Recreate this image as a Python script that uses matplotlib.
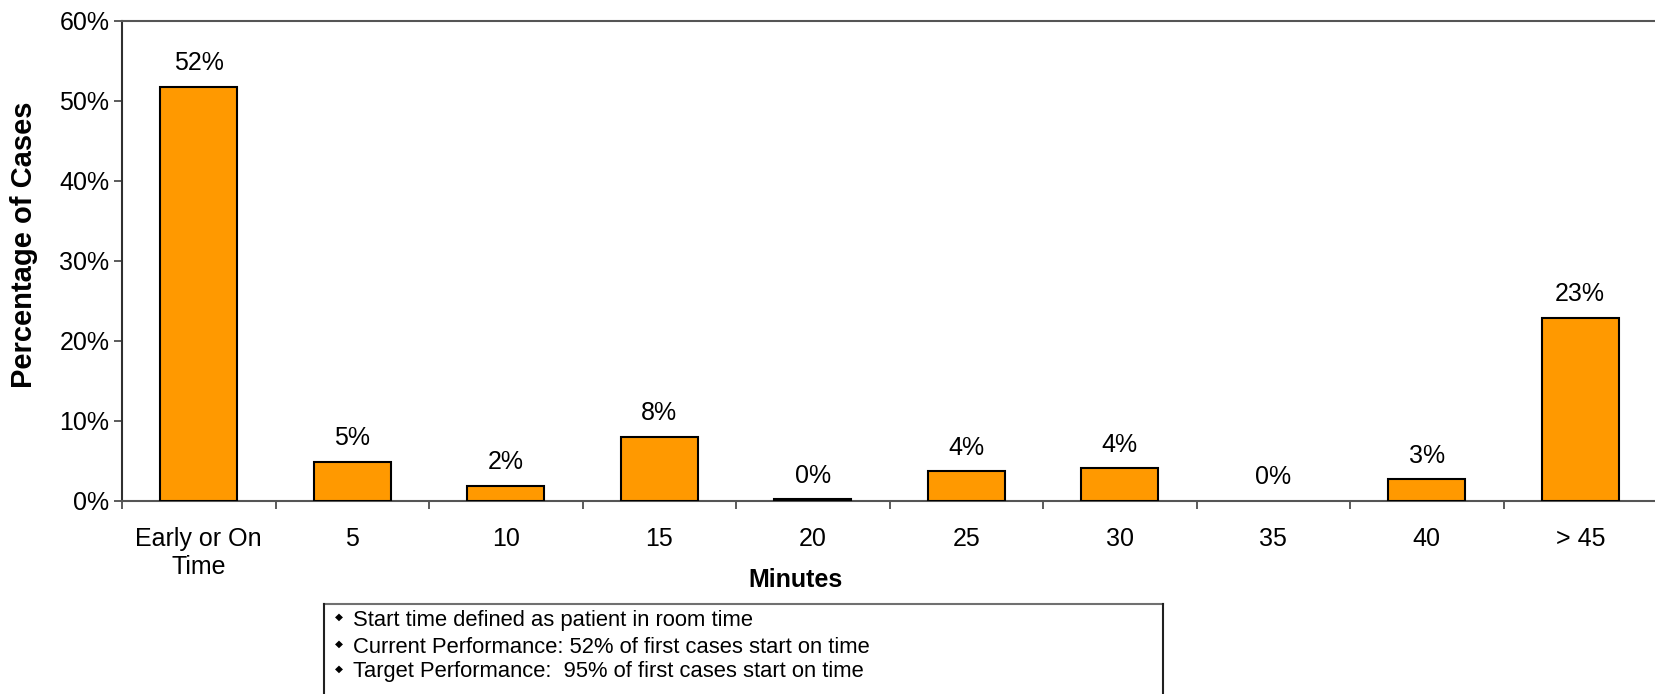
import matplotlib
matplotlib.use("Agg")
import matplotlib.pyplot as plt
from matplotlib.lines import Line2D
from matplotlib.ticker import FuncFormatter, FixedLocator

# Distribution of first-case start delays
categories = ["Early or On\nTime", "5", "10", "15", "20", "25", "30", "35", "40", "> 45"]
percent_cases = [51.8, 4.9, 1.9, 8.0, 0.2, 3.7, 4.1, 0.0, 2.7, 22.9]
y_ticks = [0, 10, 20, 30, 40, 50, 60]
notes = [
    "Start time defined as patient in room time",
    "Current Performance: 52% of first cases start on time",
    "Target Performance:  95% of first cases start on time",
]

plt.rcParams["font.family"] = ["Liberation Sans", "DejaVu Sans"]

W, H = 1656, 694
fig = plt.figure(figsize=(W / 100, H / 100), dpi=100)
ax = fig.add_axes([122 / W, 1 - 501 / H, (1657 - 122) / W, (501 - 21) / H])

x = list(range(len(categories)))
bars = ax.bar(x, percent_cases, width=0.5, color="#FF9900",
              edgecolor="black", linewidth=1.5, zorder=3)
for b, v in zip(bars, percent_cases):
    if v == 0:
        b.set_linewidth(0)
    ax.annotate(f"{v:.0f}%", (b.get_x() + b.get_width() / 2, v),
                xytext=(0, 12), textcoords="offset points",
                ha="center", va="baseline", fontsize=18)

ax.set_xlim(-0.5, len(categories) - 0.5)
ax.set_ylim(0, 60)
ax.set_yticks(y_ticks)
ax.yaxis.set_major_formatter(FuncFormatter(lambda v, p: f"{v:.0f}%"))

ax.set_xticks(x)
ax.set_xticklabels(categories, fontsize=18, linespacing=1.2)
ax.xaxis.set_minor_locator(FixedLocator([i - 0.5 for i in range(len(categories) + 1)]))
ax.tick_params(axis="x", which="major", length=0, pad=19)
ax.tick_params(axis="x", which="minor", length=6, width=1.2, color="#404040")
ax.tick_params(axis="y", which="major", length=6, width=1.2, color="#404040",
               labelsize=18, pad=3)

for side in ("left", "bottom", "top"):
    ax.spines[side].set_color("#555555")
    ax.spines[side].set_linewidth(1.5)
ax.spines["left"].set_color("#303030")
ax.spines["right"].set_visible(False)

fig.text(24 / W, 1 - 245 / H, "Percentage of Cases", rotation=90,
         ha="center", va="center", fontsize=21, fontweight="bold")
fig.text(796 / W, 1 - 580 / H, "Minutes", ha="center", va="center",
         fontsize=18, fontweight="bold")

# Notes box below the chart
bx0, bx1, by0 = 324 / W, 1163 / W, 1 - 604 / H
fig.add_artist(Line2D([bx0, bx1], [by0, by0], transform=fig.transFigure,
                      color="#707070", lw=1.5))
fig.add_artist(Line2D([bx0, bx0], [by0, -0.01], transform=fig.transFigure,
                      color="#202020", lw=1.5))
fig.add_artist(Line2D([bx1, bx1], [by0, -0.01], transform=fig.transFigure,
                      color="#202020", lw=1.5))
baselines = [626, 652.7, 677.3]
for txt, yb in zip(notes, baselines):
    fig.text(339 / W, 1 - (yb - 6) / H, "\u25c6", ha="center", va="baseline",
             fontsize=7.5, family="DejaVu Sans")
    fig.text(353 / W, 1 - yb / H, txt, ha="left", va="baseline", fontsize=15.8)

fig.savefig("out.png", dpi=100)
